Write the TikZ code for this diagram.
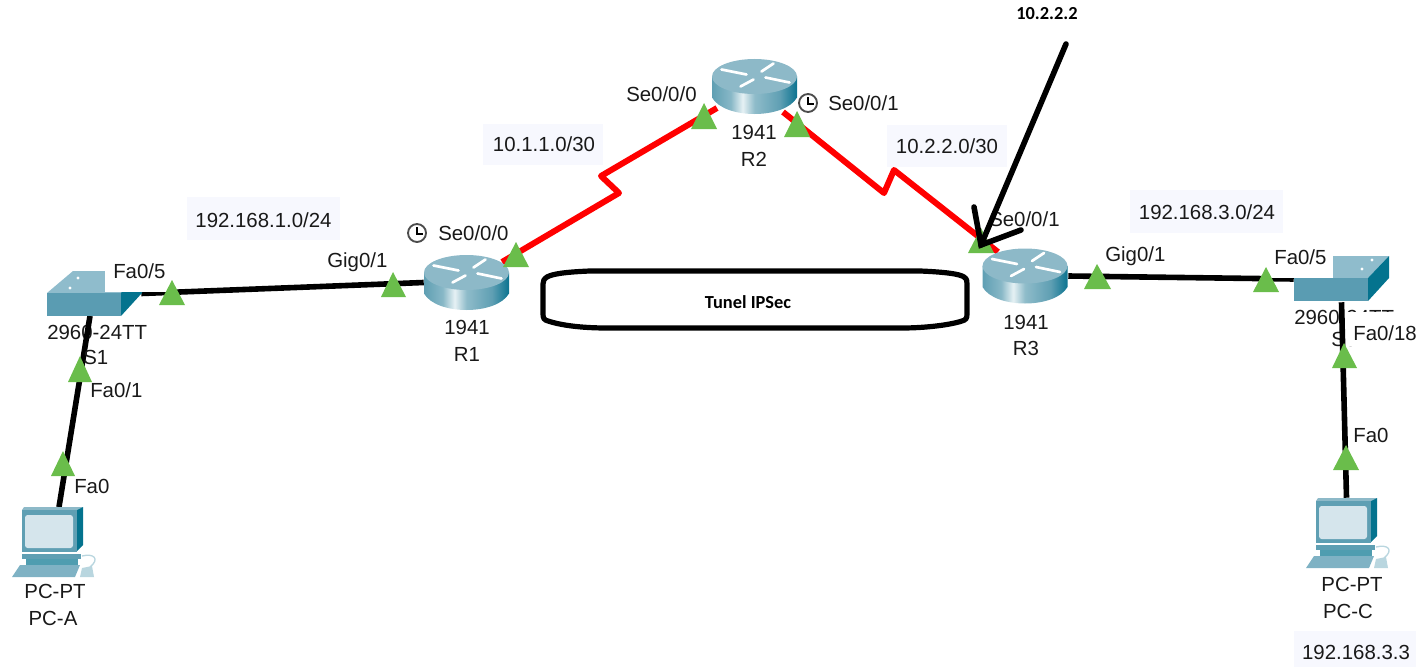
\documentclass[tikz,border=0pt]{standalone}
\usepackage{fontspec}
\setmainfont{Liberation Sans}
\newfontfamily\boldnote{Carlito}[BoldFont={Carlito Bold}]
\definecolor{rA}{HTML}{5F9FB3}
\definecolor{rB}{HTML}{E6F1F4}
\definecolor{rC}{HTML}{0B7390}
\definecolor{rTop}{HTML}{8DB9C8}
\definecolor{swFront}{HTML}{5A9CB2}
\definecolor{swTop}{HTML}{8FBCCC}
\definecolor{swSide}{HTML}{04738E}
\definecolor{pcFrame}{HTML}{5F9FB3}
\definecolor{pcScreen}{HTML}{D5E5EC}
\definecolor{pcKey}{HTML}{7FB2C4}
\definecolor{pcLight}{HTML}{B9D6DF}
\definecolor{portGreen}{HTML}{6ABD4B}
\definecolor{linkRed}{HTML}{FF0000}
\definecolor{noteBg}{HTML}{F7F8FE}
\pgfdeclarehorizontalshading{rbody}{100bp}{color(0bp)=(rA);color(25bp)=(rA);color(36bp)=(rA!70!rB);color(43bp)=(rB);color(50bp)=(rA!70!white);color(65bp)=(rA);color(75bp)=(rC);color(100bp)=(rC)}
\tikzset{
  lbl/.style={inner sep=0pt,font=\fontsize{15.3}{15.3}\selectfont,text=black!90},
  notelbl/.style={inner sep=0pt,font=\fontsize{13.8}{14}\selectfont\boldnote\bfseries,text=black},
  notebox/.style={fill=noteBg,draw=none},
  blank/.style={fill=white,draw=none},
  devbox/.style={inner sep=0pt,draw=none,fill=none},
  cable/.style={line width=4.2pt,black},
  serial/.style={line width=4.5pt,linkRed,line join=round},
  pen/.style={line width=4.2pt,black,line cap=round},
  port/.style={fill=portGreen,draw=none},
  clockface/.style={draw=black!70,fill=white,line width=1.4pt},
  pics/routerico/.style={code={
    \shade[shading=rbody] (-42.5,-10) -- (-42.5,11) .. controls (-30,33) and (30,33) .. (42.5,11) -- (42.5,-10) -- cycle;
    \fill[rTop] (0,-10) ellipse [x radius=42.5,y radius=17.5];
    \draw[white,line width=2pt,line cap=round] (-33,-17) -- (-8,-12) (7,-15) -- (19,-23) (11,-9) -- (35,-4) (-14,0) -- (-1,-7);
  }},
  pics/switchico/.style={code={
    \fill[swTop] (0,0) -- (26,-22) -- (95,-22) -- (74,0) -- cycle;
    \fill[swFront] (0,0) rectangle (74,23);
    \fill[swSide] (74,0) -- (95,-22) -- (95,0) -- (74,23) -- cycle;
    \fill[white] (31,-15) circle [radius=1.6] (23,-5) circle [radius=1.6] (78,-18) circle [radius=1.6] (68,-9) circle [radius=1.6];
  }},
  pics/pcico/.style={code={
    \draw[pcLight,line width=1pt] (60,49) .. controls (72,46) and (78,52) .. (68,60);
    \fill[pcLight] (60,61) -- (70,59) -- (72,70) -- (58,70) -- cycle;
    \fill[pcKey] (-10,70) -- (-2,58) -- (58,58) -- (53,70) -- cycle;
    \fill[pcFrame] (0,47) rectangle (59,52);
    \fill[swSide!70!white] (4,52) rectangle (56,58);
    \fill[rTop] (2,0) -- (61,0) -- (55,3) -- (0,3) -- cycle;
    \fill[swSide] (55,3) -- (61,0) -- (61,38) -- (55,44) -- cycle;
    \fill[pcFrame] (0,3) rectangle (55,45);
    \fill[pcScreen,rounded corners=2] (3,8) rectangle (51,41);
  }},
}
\begin{document}
\begin{tikzpicture}[x=0.75pt,y=-0.75pt]
\useasboundingbox (0,0) rectangle (1416,667);
% note backgrounds
\fill[notebox] (187,197) rectangle (340,240);
\fill[notebox] (483,124) rectangle (603,165);
\fill[notebox] (887,125) rectangle (1007,167);
\fill[notebox] (1130,190) rectangle (1283,233);
\fill[notebox] (1294,631) rectangle (1416,667);
% device type labels lying under the cables
\node[lbl,anchor=west] (t1) at (47,332) {2960-24TT};
\node[lbl,anchor=west] (t2) at (1294,317) {2960-24TT};
\node[lbl,anchor=west] (s3n) at (1331,339) {S3};
\fill[blank] (1345,312) rectangle (1416,346);
% device frames
\node[devbox,minimum width=63.75pt,minimum height=41.25pt] (R1) at (466.5,282.5) {};
\node[devbox,minimum width=63.75pt,minimum height=42.75pt] (R2) at (754.5,86.5) {};
\node[devbox,minimum width=64.5pt,minimum height=43.5pt] (R3) at (1025,276) {};
\node[devbox,minimum width=70.5pt,minimum height=33.75pt] (S1) at (94,293.5) {};
\node[devbox,minimum width=71.25pt,minimum height=34.5pt] (S3) at (1341.5,279) {};
\node[devbox,minimum width=45.75pt,minimum height=33.75pt] (PCA) at (52.5,529.5) {};
\node[devbox,minimum width=45.75pt,minimum height=33.75pt] (PCC) at (1346.5,520.5) {};
% port positions and free ends
\coordinate (s1s) at (90,316);
\coordinate (pcan) at (59,507);
\coordinate (r1ne) at (502,262);
\coordinate (r2sw) at (717,108);
\coordinate (r2se) at (783,112);
\coordinate (r3nw) at (998,252);
\coordinate (z1a) at (601,176);
\coordinate (z1b) at (619,193);
\coordinate (z2a) at (884,193);
\coordinate (z2b) at (894,170);
% links
\draw[cable] (S1.east) -- (R1.west);
\draw[cable] (R3.east) -- (S3.west);
\draw[cable] (s1s) -- (pcan);
\draw[cable] (S3.south) -- (PCC.north);
\fill[blank] (1350,415) rectangle (1400,447);
\draw[serial] (r1ne) -- (z1b) -- (z1a) -- (r2sw);
\draw[serial] (r2se) -- (z2a) -- (z2b) -- (r3nw);
% icons
\pic at (R1) {routerico};
\pic at (R2) {routerico};
\pic at (R3) {routerico};
\pic at (47,293) {switchico};
\pic at (1294,278) {switchico};
\pic at (22,507) {pcico};
\pic at (1316,498) {pcico};
% label backgrounds over switches
\fill[blank] (105,258) rectangle (167,292);
\fill[blank] (1268,240) rectangle (1333,277.5);
% ports
\fill[port] (172,280) -- (185,305) -- (159,305) -- cycle;
\fill[port] (80,356) -- (92,382) -- (68,382) -- cycle;
\fill[port] (63,451) -- (75,476) -- (51,476) -- cycle;
\fill[port] (393,272) -- (406,297) -- (381,297) -- cycle;
\fill[port] (516,242) -- (529,267) -- (503,267) -- cycle;
\fill[port] (704,103) -- (717,129) -- (691,129) -- cycle;
\fill[port] (797,111) -- (810,137) -- (784,137) -- cycle;
\fill[port] (981,228) -- (994,253) -- (968,253) -- cycle;
\fill[port] (1097,264) -- (1111,289) -- (1084,289) -- cycle;
\fill[port] (1266,267) -- (1279,292) -- (1253,292) -- cycle;
\fill[port] (1344,343) -- (1357,368) -- (1332,368) -- cycle;
\fill[port] (1346,445) -- (1359,470) -- (1333,470) -- cycle;
% clocks
\draw[clockface] (417,233) circle [radius=9];
\draw[black,line width=1pt] (417,227) -- (417,234) -- (423,234);
\draw[clockface] (808,103) circle [radius=9];
\draw[black,line width=1pt] (808,97) -- (808,104) -- (814,104);
% texts
\node[lbl,anchor=west] at (113,271) {Fa0/5};
\node[lbl,anchor=west] at (83,357) {S1};
\node[lbl,anchor=west] at (90,390) {Fa0/1};
\node[lbl,anchor=west] at (74,486) {Fa0};
\node[lbl] at (55,591) {PC-PT};
\node[lbl] at (53,618) {PC-A};
\node[lbl] at (263.5,220) {192.168.1.0/24};
\node[lbl,anchor=west] at (327,262) {Gig0/1};
\node[lbl,anchor=west] at (438,233) {Se0/0/0};
\node[lbl] at (467,327) {1941};
\node[lbl] at (467,354) {R1};
\node[lbl] at (544,144) {10.1.1.0/30};
\node[lbl,anchor=west] at (626,94) {Se0/0/0};
\node[lbl,anchor=west] at (828,103) {Se0/0/1};
\node[lbl] at (754,132) {1941};
\node[lbl] at (754,159) {R2};
\node[lbl] at (947,146) {10.2.2.0/30};
\node[lbl,anchor=west] at (989,219) {Se0/0/1};
\node[lbl] at (1026,322) {1941};
\node[lbl] at (1026,348) {R3};
\node[lbl,anchor=west] at (1105,256) {Gig0/1};
\node[lbl] at (1207,212) {192.168.3.0/24};
\node[lbl,anchor=west] at (1274,257) {Fa0/5};
\node[lbl,anchor=west] at (1353,333) {Fa0/18};
\node[lbl,anchor=west] at (1353,435) {Fa0};
\node[lbl] at (1352,584) {PC-PT};
\node[lbl] at (1348,611) {PC-C};
\node[lbl] at (1356,652) {192.168.3.3};
% tunnel
\node[notelbl] (tun) at (748,302) {Tunel IPSec};
\draw[line width=3.9pt,black] (590,271) -- (920,271) .. controls (945,272) and (960,274) .. (964,277) .. controls (967,279) and (967,281) .. (967,284) -- (967,314) .. controls (967,318) and (966,320) .. (962,321) .. controls (950,325) and (925,328) .. (902,328) -- (607,328) .. controls (580,328) and (560,325) .. (548,321) .. controls (544,320) and (543,318) .. (543,314) -- (543,284) .. controls (543,281) and (544,279) .. (547,277) .. controls (552,274) and (565,272) .. (590,271) -- cycle;
% annotation
\node[notelbl] (ann) at (1047,14) {10.2.2.2};
\coordinate (annfoot) at (1066,44);
\coordinate (tip) at (981,245);
\coordinate (headl) at (974,207);
\coordinate (headr) at (1021,230);
\draw[pen] (annfoot) -- (tip);
\draw[pen] (headl) -- (tip) -- (headr);
\end{tikzpicture}
\end{document}
